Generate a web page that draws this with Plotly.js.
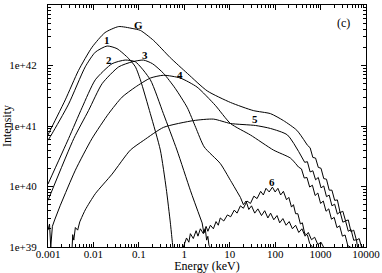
<!DOCTYPE html>
<html><head><meta charset="utf-8">
<script src="https://cdn.plot.ly/plotly-3.0.1.min.js"></script>
<style>html,body{margin:0;padding:0;background:#fff}#chart{width:382px;height:273px}</style>
</head><body><div id="chart"></div>
<script>
// ---- data (Energy in keV, Intensity) ----
const xTickVals = [0.001, 0.01, 0.1, 1, 10, 100, 1000, 10000];
const xTickText = ['0.001', '0.01', '0.1', '1', '10', '100', '1000', '10000'];
const yTickVals = [1e39, 1e40, 1e41, 1e42, 1e43];
const yTickText = ['1e+39', '1e+40', '1e+41', '1e+42', '1e+43'];

const curveNames = ['G', '1', '2', '3', '4', '5', '6'];

const energyG = [0.001, 0.00112, 0.0024, 0.0047, 0.0093, 0.018, 0.036, 0.071, 0.108, 0.21, 0.49, 1.17, 3.2, 10.4, 33, 79, 152, 300, 514,
  589, 676, 776, 891, 1023, 1175, 1349, 1549, 1778, 2042, 2344, 2692, 3090, 3548, 4074, 4677, 5370, 6166, 7079, 7943, 8800];
const intensG = [7.1e40, 8.5e40, 2.7e41, 8.3e41, 2.0e42, 3.5e42, 4.4e42, 4.1e42, 3.8e42, 2.6e42, 1.35e42, 7.4e41, 3.8e41, 2.45e41, 1.8e41, 1.6e41, 1.23e41, 8.5e40, 4.8e40,
  4.37e40, 3.02e40, 2.95e40, 2.07e40, 2.0e40, 1.35e40, 1.32e40, 8.7e39, 8.7e39, 5.9e39, 6.0e39, 3.7e39, 3.9e39, 2.7e39, 2.8e39, 1.78e39, 1.9e39, 1.29e39, 1.38e39, 1.0e39, 1.0e39];

const energy1 = [0.001, 0.00122, 0.00284, 0.0066, 0.011, 0.020, 0.033, 0.060, 0.084, 0.108, 0.179, 0.297, 0.40, 0.494, 0.54, 0.56];
const intens1 = [5.8e40, 7.4e40, 2.3e41, 9.5e41, 1.66e42, 2.1e42, 1.9e42, 1.3e42, 9.5e41, 5.8e41, 1.6e41, 4.0e40, 9.3e39, 2.5e39, 1.3e39, 1.0e39];

const energy2 = [0.001, 0.00284, 0.0056, 0.011, 0.0257, 0.050, 0.084, 0.179, 0.347, 0.69, 1.37, 2.47, 2.7, 2.9, 3.1, 3.3, 3.5, 3.76];
const intens2 = [1.1e40, 6.2e40, 2.0e41, 5.8e41, 1.07e42, 1.23e42, 1.15e42, 5.8e41, 1.6e41, 4.0e40, 8.5e39, 2.5e39, 1.7e39, 2.0e39, 1.3e39, 1.5e39, 1.05e39, 1.0e39];

const energy3 = [0.001, 0.0037, 0.0078, 0.0155, 0.036, 0.071, 0.126, 0.20, 0.35, 0.63, 1.17, 1.78, 2.75, 6.2, 10.4, 17.2, 20, 22.9, 26.3, 30.2, 35.5, 41.7, 50.1, 58.9, 69.2, 79.4, 93.3, 110, 126, 148, 174, 204, 240, 282, 331, 389, 457, 537, 631, 741, 871, 1023, 1160];
const intens3 = [5.9e39, 6.2e40, 1.8e41, 5.0e41, 9.5e41, 1.15e42, 1.23e42, 1.07e42, 7.4e41, 4.2e41, 2.0e41, 9.5e40, 4.5e40, 2.4e40, 1.26e40, 6.61e39, 5.01e39, 5.75e39, 4.17e39, 4.79e39, 3.63e39, 4.27e39, 3.31e39, 3.98e39, 3.02e39, 3.63e39, 2.82e39, 3.31e39, 2.51e39, 2.95e39, 2.29e39, 2.63e39, 2.0e39, 2.29e39, 1.74e39, 2.0e39, 1.51e39, 1.74e39, 1.32e39, 1.45e39, 1.1e39, 1.2e39, 1.0e39];

const energy4 = [0.001, 0.00108, 0.00115, 0.00125, 0.0014, 0.00187, 0.0040, 0.0093, 0.0216, 0.0427, 0.084, 0.179, 0.35, 0.82, 1.91, 4.8, 10.4, 28.6, 92, 217, 326,
  380, 437, 501, 575, 661, 759, 871, 1000, 1148, 1318, 1514, 1738, 1995, 2291, 2630, 3020, 3467, 3981, 4560];
const intens4 = [1.9e39, 2.4e39, 1.0e39, 2.2e39, 2.8e39, 4.9e39, 1.86e40, 6.2e40, 1.6e41, 3.0e41, 4.4e41, 6.2e41, 6.9e41, 6.2e41, 4.4e41, 2.2e41, 1.1e41, 7.1e40, 4.0e40, 2.95e40, 2.1e40,
  1.95e40, 1.38e40, 1.41e40, 9.8e39, 1.05e40, 7.1e39, 7.8e39, 5.25e39, 5.75e39, 3.9e39, 4.27e39, 2.88e39, 3.09e39, 2.09e39, 2.24e39, 1.51e39, 1.58e39, 1.05e39, 1.0e39];

const energy5 = [0.0034, 0.0035, 0.0037, 0.0040, 0.0045, 0.0050, 0.0066, 0.011, 0.0257, 0.065, 0.128, 0.35, 1.61, 4.4, 10.4, 36.8, 79, 187, 447,
  513, 589, 676, 776, 891, 1023, 1175, 1349, 1549, 1778, 2042, 2344, 2692, 3090, 3548, 4074, 4677, 5370, 6166, 6500];
const intens5 = [1.0e39, 1.6e39, 1.3e39, 2.1e39, 1.9e39, 2.6e39, 4.1e39, 7.6e39, 1.6e40, 4.0e40, 5.8e40, 9.5e40, 1.23e41, 1.3e41, 1.1e41, 1.02e41, 9.1e40, 7.1e40, 2.51e40,
  2.57e40, 1.74e40, 1.82e40, 1.29e40, 1.41e40, 9.5e39, 1.02e40, 6.8e39, 7.2e39, 4.8e39, 5.1e39, 3.5e39, 3.8e39, 2.57e39, 2.7e39, 1.82e39, 1.95e39, 1.29e39, 1.32e39, 1.0e39];

const energy6 = [0.955, 1.12, 1.26, 1.36, 1.58, 1.82, 2.0, 2.26, 2.63, 3.02, 3.31, 3.76, 4.37, 5.0, 5.6, 6.2, 7.4, 8.9, 10.5, 12.6, 14.5, 17.2, 20, 24, 28.6, 34, 40, 48, 55, 63, 74, 87, 100, 115, 132, 152, 178, 200, 229, 253, 282, 316, 360, 398, 447, 514, 575, 660];
const intens6 = [1.0e39, 1.41e39, 1.2e39, 1.66e39, 1.38e39, 1.86e39, 1.51e39, 2.0e39, 1.66e39, 2.19e39, 1.82e39, 2.29e39, 2.0e39, 2.63e39, 2.29e39, 3.02e39, 2.69e39, 3.39e39, 3.16e39, 4.07e39, 3.63e39, 4.79e39, 4.37e39, 5.75e39, 5.25e39, 6.92e39, 6.31e39, 8.32e39, 7.24e39, 9.33e39, 8.13e39, 9.77e39, 8.13e39, 9.33e39, 7.24e39, 8.32e39, 6.03e39, 6.61e39, 4.57e39, 5.01e39, 3.55e39, 3.55e39, 2.4e39, 2.51e39, 1.66e39, 1.58e39, 1.15e39, 1.0e39];

// ---- build ----
const serif = 'Liberation Serif, Times New Roman, serif';
const series = [
  [energyG, intensG], [energy1, intens1], [energy2, intens2], [energy3, intens3],
  [energy4, intens4], [energy5, intens5], [energy6, intens6]
];
// index ranges drawn smooth (spline); everything else is drawn as a jagged (noisy) polyline
const smoothRange = [[0, 18], [0, 15], [0, 11], [0, 15], [5, 20], [5, 18], null];

const traces = [];
series.forEach((s, i) => {
  const n = s[0].length;
  const r = smoothRange[i];
  const pieces = [];
  if (!r) pieces.push([0, n - 1, 'linear']);
  else {
    if (r[0] > 0) pieces.push([0, r[0], 'linear']);
    pieces.push([r[0], r[1], 'spline']);
    if (r[1] < n - 1) pieces.push([r[1], n - 1, 'linear']);
  }
  pieces.forEach(p => {
    traces.push({
      x: s[0].slice(p[0], p[1] + 1), y: s[1].slice(p[0], p[1] + 1),
      name: curveNames[i], type: 'scatter', mode: 'lines',
      line: {color: '#000', width: 1, shape: p[2], smoothing: 0.6},
      showlegend: false, hoverinfo: 'skip'
    });
  });
});

function minorVals(lo, hi) {
  const v = [];
  for (let d = lo; d < hi; d++) for (let m = 2; m <= 9; m++) v.push(m * Math.pow(10, d));
  return v;
}

// label positions (log10 coords)
const labelPos = [[-1.004, 42.665], [-1.70, 42.417], [-1.665, 42.086], [-0.857, 42.17], [-0.101, 41.84], [1.566, 41.12], [1.934, 40.07]];
const annotations = curveNames.map((n, i) => ({
  x: labelPos[i][0], y: labelPos[i][1], xref: 'x', yref: 'y', text: '<b>' + n + '</b>',
  showarrow: false, font: {family: serif, size: 11, color: '#000'}
}));
annotations.push({x: 3.504, y: 42.70, xref: 'x', yref: 'y', text: '(c)', showarrow: false,
  font: {family: serif, size: 12, color: '#000'}});

const axisCommon = {
  type: 'log', showgrid: false, zeroline: false, showline: true, linecolor: '#000', linewidth: 1,
  mirror: 'allticks', ticks: 'inside', ticklen: 5, tickwidth: 1, tickcolor: '#000',
  tickfont: {family: serif, size: 11, color: '#000'}
};

const layout = {
  width: 382, height: 273,
  margin: {l: 48, r: 16, t: 5, b: 26, pad: 0},
  paper_bgcolor: '#fff', plot_bgcolor: '#fff',
  font: {family: serif, color: '#000'},
  xaxis: Object.assign({}, axisCommon, {
    range: [-3, 4], tickmode: 'array', tickvals: xTickVals, ticktext: xTickText,
    ticklabelstandoff: -3,
    minor: {tickmode: 'array', tickvals: minorVals(-3, 4), ticks: 'inside', ticklen: 3, tickcolor: '#000', showgrid: false},
    title: {text: 'Energy (keV)', font: {family: serif, size: 12, color: '#000'}, standoff: 3}
  }),
  yaxis: Object.assign({}, axisCommon, {
    range: [39, 43], tickmode: 'array', tickvals: yTickVals, ticktext: yTickText,
    ticklabelstandoff: 8,
    minor: {tickmode: 'array', tickvals: minorVals(39, 43), ticks: 'inside', ticklen: 3, tickcolor: '#000', showgrid: false},
    title: {text: 'Intensity', font: {family: serif, size: 12, color: '#000'}, standoff: 2}
  }),
  annotations: annotations
};

Plotly.newPlot('chart', traces, layout, {staticPlot: true, displayModeBar: false});
</script>
</body></html>
